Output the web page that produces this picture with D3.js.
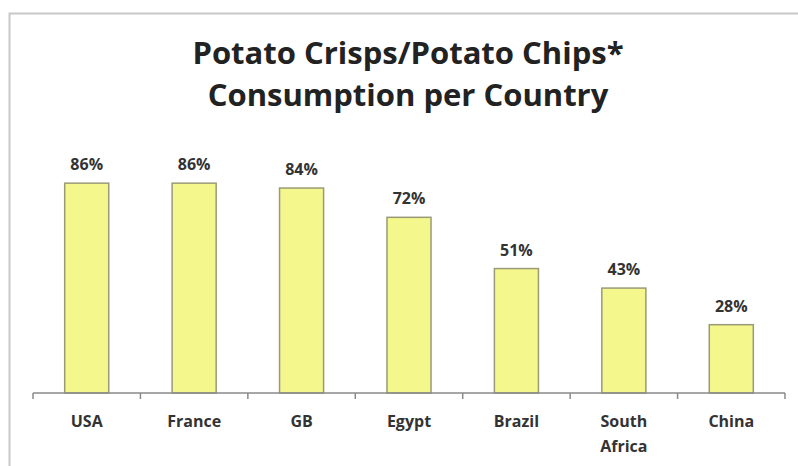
<!DOCTYPE html>
<html>
<head>
<meta charset="utf-8">
<script src="https://cdn.jsdelivr.net/npm/d3@7"></script>
<style>
  body { margin: 0; background: #fff; }
  text { font-family: "Open Sans", sans-serif; font-weight: bold; fill: #222; }
</style>
</head>
<body>
<svg id="chart" width="798" height="466"></svg>
<script>
// data
var countries = ["USA", "France", "GB", "Egypt", "Brazil", "South Africa", "China"];
var shares = [86, 86, 84, 72, 51, 43, 28];
var titleLines = ["Potato Crisps/Potato Chips*", "Consumption per Country"];

var margin = {top: 149, bottom: 73, left: 33, right: 13};
var width = 798 - margin.left - margin.right;
var height = 466 - margin.top - margin.bottom;

var svg = d3.select('#chart');

// outer frame of the chart area
svg.append('path')
   .attr('d', 'M9.5,466 V13.5 H798')
   .attr('fill', 'none')
   .attr('stroke', '#c8c8c8')
   .attr('stroke-width', 2);

svg.selectAll('.title')
   .data(titleLines)
   .enter()
   .append('text')
   .attr('class', 'title')
   .attr('x', 408)
   .attr('y', (d, i) => 64 + i * 42)
   .attr('text-anchor', 'middle')
   .style('font-size', '31px')
   .text((d) => d);

var chart = svg.append('g')
               .attr('transform', 'translate(' + margin.left + ',' + margin.top + ')');

var data = countries.map((c, i) => ({country: c, value: shares[i]}));

var x = d3.scaleBand()
          .domain(countries)
          .range([0, width])
          .paddingInner(0.59)
          .paddingOuter(0.295);

var y = d3.scaleLinear()
          .domain([0, 100])
          .range([height, 0]);

// bars
chart.selectAll('rect')
     .data(data)
     .enter()
     .append('rect')
     .attr('x', (d) => x(d.country))
     .attr('y', (d) => y(d.value))
     .attr('width', x.bandwidth())
     .attr('height', (d) => height - y(d.value))
     .attr('fill', '#f4f78c')
     .attr('stroke', '#9a9a78')
     .attr('stroke-width', 1.5);

// value labels
chart.selectAll('.label')
     .data(data)
     .enter()
     .append('text')
     .attr('class', 'label')
     .attr('x', (d) => x(d.country) + x.bandwidth() / 2)
     .attr('y', (d) => y(d.value) - 13)
     .attr('text-anchor', 'middle')
     .style('font-size', '16px')
     .style('fill', '#333')
     .text((d) => d.value + '%');

// x axis with ticks between categories
var axis = chart.append('g')
                .attr('transform', 'translate(0,' + height + ')');

axis.append('line')
    .attr('x1', 0).attr('x2', width)
    .attr('stroke', '#8a8a8a').attr('stroke-width', 1.5);

var step = x.step();
axis.selectAll('.tick')
    .data(d3.range(countries.length + 1))
    .enter()
    .append('line')
    .attr('x1', (d) => d * step)
    .attr('x2', (d) => d * step)
    .attr('y1', 0).attr('y2', 6)
    .attr('stroke', '#8a8a8a').attr('stroke-width', 1.5);

var cat = axis.selectAll('.cat')
              .data(countries)
              .enter()
              .append('text')
              .attr('class', 'cat')
              .attr('x', (d) => x(d) + x.bandwidth() / 2)
              .attr('y', 34)
              .attr('text-anchor', 'middle')
              .style('font-size', '16px')
              .style('fill', '#333');

cat.selectAll('tspan')
   .data((d) => d.split(' '))
   .enter()
   .append('tspan')
   .attr('x', function () { return d3.select(this.parentNode).attr('x'); })
   .attr('dy', (d, i) => i ? 25 : 0)
   .text((d) => d);
</script>
</body>
</html>
